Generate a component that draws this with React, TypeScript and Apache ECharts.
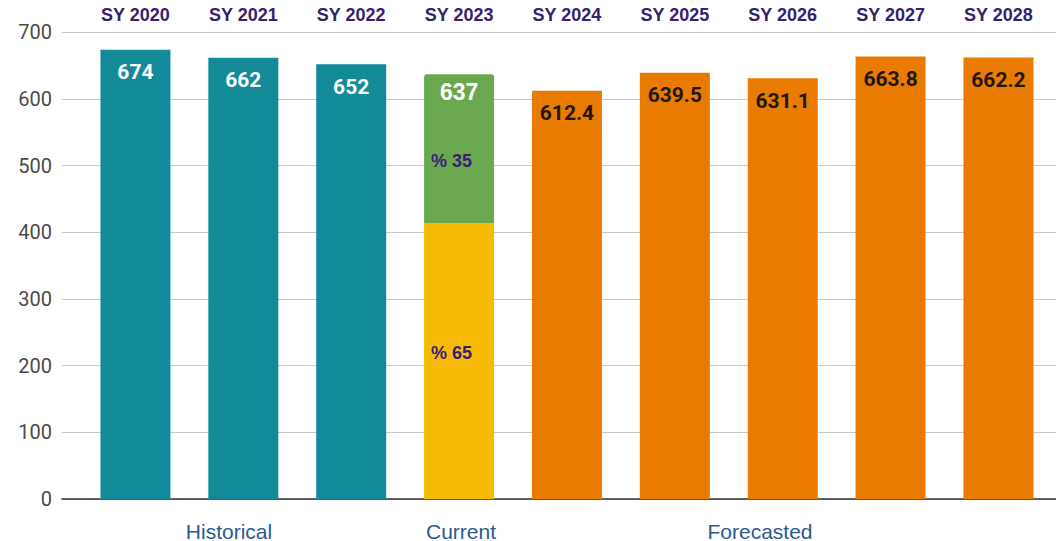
import React, { useEffect, useRef } from "react";
import * as echarts from "echarts";

const categories = ["SY 2020", "SY 2021", "SY 2022", "SY 2023", "SY 2024", "SY 2025", "SY 2026", "SY 2027", "SY 2028"];
const historical = [674, 662, 652, null, null, null, null, null, null];
const currentTotal = [null, null, null, 637, null, null, null, null, null];
const currentShares = [65, 35]; // % of current total: lower (yellow), upper (green)
const forecast = [null, null, null, null, 612.4, 639.5, 631.1, 663.8, 662.2];
const yTicks = [0, 100, 200, 300, 400, 500, 600, 700];
const groupLabels = ["Historical", "Current", "Forecasted"];

const TEAL = "#128a98";
const YELLOW = "#f8bb05";
const GREEN = "#6aa84f";
const ORANGE = "#e87b00";

export default function App() {
  const ref = useRef<HTMLDivElement>(null);
  useEffect(() => {
    if (!ref.current) return;
    const chart = echarts.init(ref.current, undefined, { renderer: "svg" });
    const lower = currentTotal.map((v) => (v == null ? null : +(v * currentShares[0] / 100).toFixed(2)));
    const upper = currentTotal.map((v) => (v == null ? null : +(v * currentShares[1] / 100).toFixed(2)));
    const top = 32.3;
    const bottom = 42;
    const valueFont = { fontFamily: "Roboto", fontWeight: "bold" as const, fontSize: 21 };
    const pctFont = { color: "#3a1f7a", fontFamily: "Liberation Sans, Arial", fontWeight: "bold" as const, fontSize: 18 };
    const groupFont = "21px 'Liberation Sans', Arial";
    chart.setOption({
      animation: false,
      backgroundColor: "#ffffff",
      grid: [
        { left: 81.5, right: 3.6, top, bottom },
        { left: 62, right: 0, top, bottom },
      ],
      xAxis: [
        {
          type: "category",
          gridIndex: 0,
          position: "top",
          data: categories,
          axisLine: { show: false },
          axisTick: { show: false },
          axisLabel: {
            margin: 8,
            color: "#35226b",
            fontFamily: "Liberation Sans, Arial",
            fontWeight: "bold",
            fontSize: 18,
          },
        },
        {
          type: "value",
          gridIndex: 1,
          min: 0,
          max: 1,
          position: "bottom",
          axisLine: { show: true, lineStyle: { color: "#333", width: 1.5 } },
          axisTick: { show: false },
          axisLabel: { show: false },
          splitLine: { show: false },
        },
      ],
      yAxis: [
        { type: "value", gridIndex: 0, min: 0, max: 700, interval: 100, show: false },
        {
          type: "value",
          gridIndex: 1,
          min: yTicks[0],
          max: yTicks[yTicks.length - 1],
          interval: 100,
          axisLine: { show: false },
          axisTick: { show: false },
          splitLine: { show: true, lineStyle: { color: "#c8c8c8", width: 1 } },
          axisLabel: { margin: 10, color: "#4a4a4a", fontFamily: "Roboto", fontSize: 20 },
        },
      ],
      series: [
        {
          type: "bar",
          name: "Historical",
          data: historical,
          barWidth: 70,
          barGap: "-100%",
          itemStyle: { color: TEAL },
          label: { show: true, position: "insideTop", distance: 12, color: "#ffffff", ...valueFont },
        },
        {
          type: "bar",
          name: "Current lower",
          stack: "cur",
          data: lower,
          barWidth: 70,
          barGap: "-100%",
          itemStyle: { color: YELLOW },
          label: {
            show: true,
            position: ["10%", "47%"],
            align: "left",
            verticalAlign: "middle",
            formatter: () => `% ${currentShares[0]}`,
            ...pctFont,
          },
        },
        {
          type: "bar",
          name: "Current upper",
          stack: "cur",
          data: upper,
          barWidth: 70,
          barGap: "-100%",
          itemStyle: { color: GREEN, borderRadius: [3, 3, 0, 0] },
          label: {
            show: true,
            position: ["10%", "58%"],
            align: "left",
            verticalAlign: "middle",
            formatter: () => `% ${currentShares[1]}`,
            ...pctFont,
          },
        },
        {
          type: "bar",
          name: "Forecasted",
          data: forecast,
          barWidth: 70,
          barGap: "-100%",
          itemStyle: { color: ORANGE },
          label: { show: true, position: "insideTop", distance: 12, color: "#231610", ...valueFont },
        },
        {
          type: "bar",
          name: "Current total",
          data: currentTotal,
          barWidth: 70,
          barGap: "-100%",
          itemStyle: { color: "rgba(0,0,0,0)" },
          label: {
            show: true,
            position: "insideTop",
            distance: 6,
            color: "#ffffff",
            fontFamily: "Liberation Sans, Arial",
            fontWeight: "bold",
            fontSize: 23,
          },
        },
      ],
      graphic: [
        { type: "text", x: 229, y: 531, style: { text: groupLabels[0], align: "center", verticalAlign: "middle", fill: "#2c5a92", font: groupFont } },
        { type: "text", x: 461, y: 531, style: { text: groupLabels[1], align: "center", verticalAlign: "middle", fill: "#2c5a92", font: groupFont } },
        { type: "text", x: 760, y: 531, style: { text: groupLabels[2], align: "center", verticalAlign: "middle", fill: "#2c5a92", font: groupFont } },
      ],
    });
    return () => chart.dispose();
  }, []);
  return <div ref={ref} style={{ position: "fixed", left: 0, top: 0, width: 1056, height: 541 }} />;
}
